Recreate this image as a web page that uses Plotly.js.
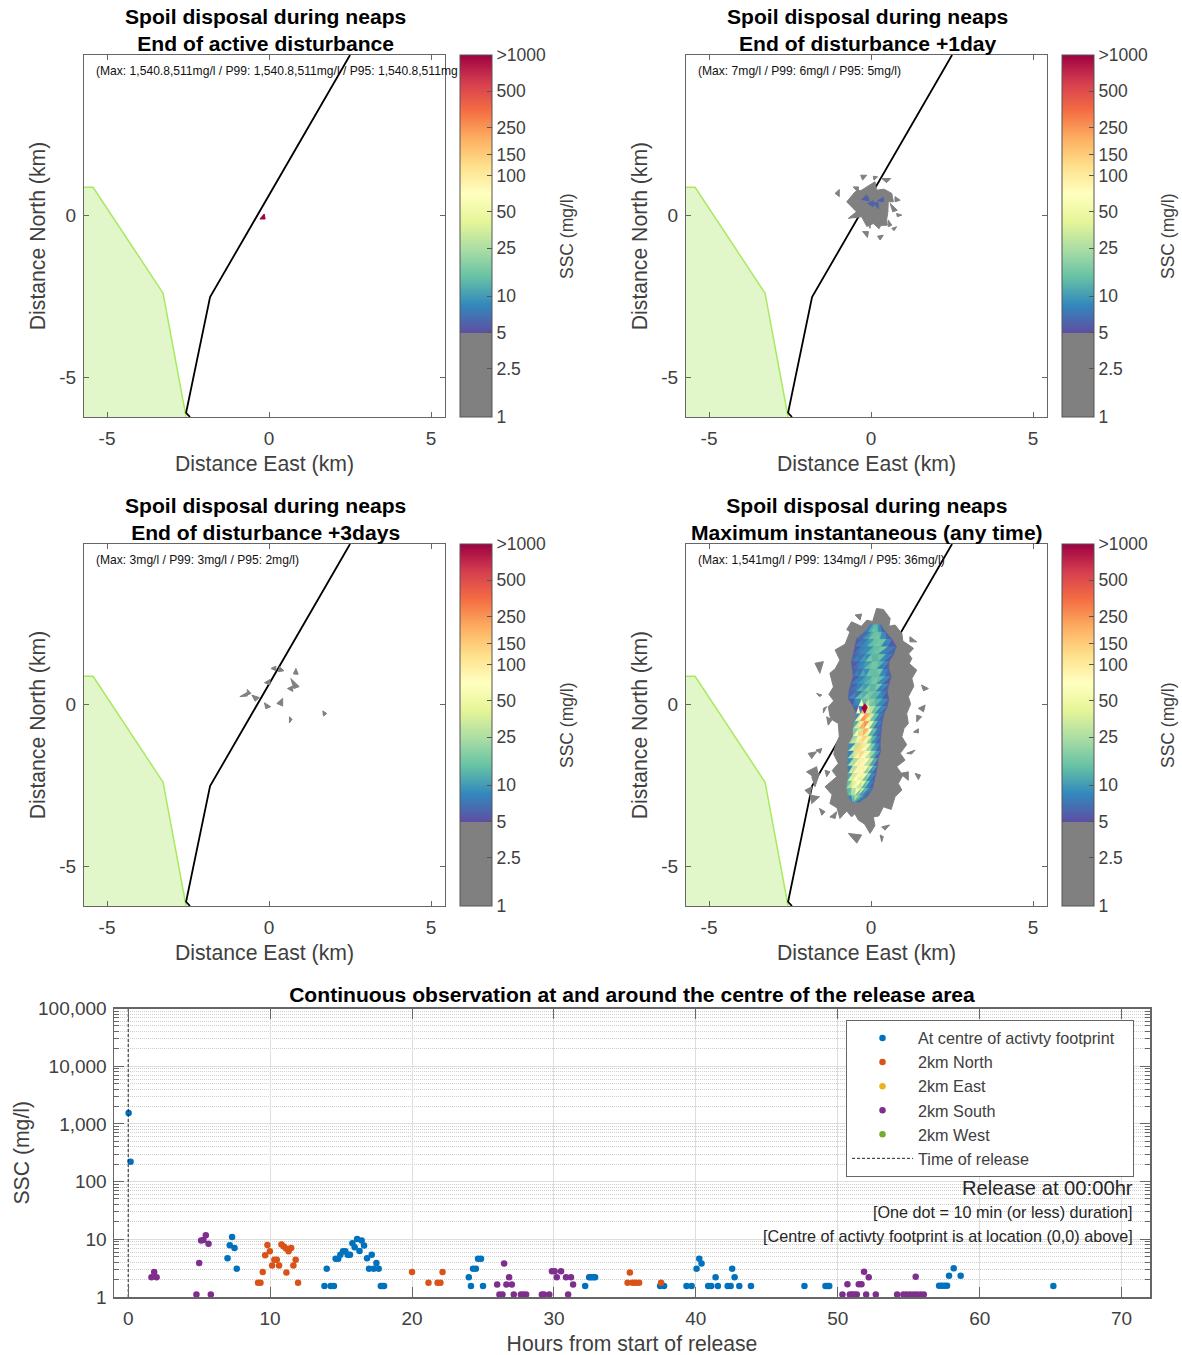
<!DOCTYPE html>
<html><head><meta charset="utf-8">
<script src="https://cdn.plot.ly/plotly-3.0.1.min.js"></script>
<style>html,body{margin:0;padding:0;background:#fff}</style></head>
<body><div id="chart" style="width:1182px;height:1355px"></div>
<script>
// ---- Map data (km) ----
const coastX=[-5.71,-5.43,-3.27,-2.56,-5.71,-5.71];
const coastY=[0.86,0.86,-2.41,-6.23,-6.23,0.86];
const coastEdgeX=[-5.71,-5.43,-3.27,-2.56];
const coastEdgeY=[0.86,0.86,-2.41,-6.23];
const channelX=[2.5,-1.82,-2.56,-2.44];
const channelY=[4.94,-2.53,-6.1,-6.23];
const panelTitles=["Spoil disposal during neaps<br>End of active disturbance","Spoil disposal during neaps<br>End of disturbance +1day","Spoil disposal during neaps<br>End of disturbance +3days","Spoil disposal during neaps<br>Maximum instantaneous (any time)"];
const panelStats=["(Max: 1,540.8,511mg/l / P99: 1,540.8,511mg/l / P95: 1,540.8,511mg","(Max: 7mg/l / P99: 6mg/l / P95: 5mg/l)","(Max: 3mg/l / P99: 3mg/l / P95: 2mg/l)","(Max: 1,541mg/l / P99: 134mg/l / P95: 36mg/l)"];
// ---- Colour bar ----
const cbarValues=[1,2.5,5,10,25,50,100,150,250,500,1000];
const cbarLabels=["1","2.5","5","10","25","50","100","150","250","500",">1000"];
const spectral=["#5e4fa2","#3288bd","#66c2a5","#abdda4","#e6f598","#ffffbf","#fee08b","#fdae61","#f46d43","#d53e4f","#9e0142"];
const greyColor="#808080";
// ---- Panel 1 footprint ----
const p1Crimson=[[-0.28,-0.12],[-0.15,0.03],[-0.12,-0.12]];
// ---- Panel 2 footprint ----
const p2Blob=[[-0.29,0.77],[-0.1,0.88],[0.12,1.03],[0.17,0.77],[0.4,0.8],[0.64,0.67],[0.69,0.41],[0.53,0.41],[0.52,0.1],[0.48,-0.15],[0.5,-0.31],[0.3,-0.32],[0.25,-0.42],[0.07,-0.26],[-0.13,-0.35],[-0.29,-0.05],[-0.7,-0.1],[-0.45,0.1],[-0.75,0.41],[-0.49,0.72]];
const p2Grey=[
[[-1.11,0.67],[-0.98,0.79],[-0.98,0.57]],[[-0.32,1.23],[-0.13,1.23],[-0.26,1.08]],[[0.07,1.2],[0.2,1.18],[0.09,1.08]],[[0.33,1.13],[0.61,1.13],[0.48,1.0]],
[[-0.55,0.87],[-0.39,0.87],[-0.39,0.69]],[[0.74,0.57],[0.9,0.46],[0.74,0.41]],[[0.59,0.36],[0.81,0.15],[0.67,0.1]],[[0.79,0.05],[0.95,0],[0.81,-0.05]],
[[0.53,-0.15],[0.64,-0.31],[0.53,-0.36]],[[0.64,-0.41],[0.79,-0.36],[0.71,-0.48]],[[-0.26,-0.51],[-0.08,-0.51],[-0.11,-0.69]],[[0.2,-0.65],[0.38,-0.62],[0.28,-0.77]],
[[-0.13,-0.15],[-0.01,-0.15],[-0.03,-0.41]]];
const p2Blue=[[[-0.29,0.48],[-0.13,0.62],[-0.05,0.44]],[[-0.1,0.36],[0.07,0.44],[0.07,0.26]],[[0.2,0.44],[0.38,0.55],[0.38,0.41]],[[0.07,0.38],[0.22,0.38],[0.22,0.2]]];
// ---- Panel 3 footprint ----
const p3Grey=[
[[0.06,1.1],[0.21,1.17],[0.21,1.03]],[[0.32,1.15],[0.46,1.03],[0.29,1.0]],[[0.83,1.1],[0.9,0.92],[0.75,0.93]],[[-0.14,0.66],[0.03,0.76],[0.03,0.59]],
[[0.67,0.79],[0.93,0.54],[0.77,0.48]],[[0.57,0.48],[0.73,0.56],[0.73,0.39]],[[-0.9,0.23],[-0.69,0.35],[-0.67,0.25]],[[-0.67,0.45],[-0.56,0.33],[-0.67,0.28]],
[[-0.53,0.28],[-0.3,0.2],[-0.43,0.09]],[[-0.14,0.04],[0.05,-0.08],[-0.1,-0.14]],[[0.24,0.02],[0.42,0.18],[0.42,-0.06]],[[0.63,-0.39],[0.71,-0.47],[0.63,-0.58]],[[1.66,-0.21],[1.78,-0.29],[1.68,-0.37]]];
// ---- Panel 4 footprint ----
const p4Blob=[[0.17,2.95],[0.38,2.92],[0.59,2.64],[0.55,2.4],[0.74,2.44],[0.95,2.18],[0.98,1.95],[1.31,1.72],[1.16,1.55],[1.26,1.41],[1.18,1.25],[1.41,1.05],[1.26,0.79],[1.32,0.55],[1.15,0.23],[1.22,0.0],[1.1,-0.29],[1.15,-0.6],[1.02,-0.75],[0.95,-1.01],[1.1,-1.25],[0.9,-1.52],[1.05,-1.73],[0.79,-1.93],[0.98,-2.2],[0.84,-2.45],[0.95,-2.65],[0.74,-2.86],[0.62,-3.25],[0.38,-3.17],[0.24,-3.45],[0.07,-3.48],[0.12,-3.75],[-0.03,-3.99],[-0.2,-3.7],[-0.39,-3.58],[-0.5,-3.38],[-0.6,-3.48],[-0.75,-3.3],[-0.96,-3.53],[-1.05,-3.2],[-1.27,-3.07],[-1.2,-2.8],[-1.42,-2.55],[-1.06,-2.24],[-1.2,-2.05],[-1.01,-1.83],[-1.15,-1.55],[-1.11,-1.32],[-0.98,-1.0],[-1.01,-0.6],[-1.25,-0.45],[-1.32,-0.08],[-1.15,0.1],[-1.3,0.3],[-1.16,0.53],[-1.27,0.95],[-1.1,1.1],[-0.96,1.36],[-1.11,1.67],[-0.8,1.85],[-0.65,2.23],[-0.75,2.3],[-0.6,2.54],[-0.3,2.4],[-0.13,2.59],[0.05,2.55]];
const p4Grey=[
[[-1.73,1.26],[-1.47,1.31],[-1.58,0.95]],[[-0.49,2.75],[-0.29,2.78],[-0.34,2.59]],[[1.2,2.08],[1.41,1.92],[1.2,1.92]],[[1.56,0.59],[1.77,0.48],[1.62,0.41]],
[[1.46,-0.13],[1.67,-0.03],[1.62,-0.24]],[[1.41,-0.34],[1.56,-0.39],[1.41,-0.55]],[[1.31,-0.86],[1.46,-0.76],[1.46,-0.89]],[[-1.68,0.33],[-1.52,0.28],[-1.59,0.23]],
[[-1.47,-0.13],[-1.37,-0.08],[-1.47,-0.27]],[[-1.37,-0.39],[-1.21,-0.49],[-1.32,-0.65]],[[-1.94,-1.52],[-1.68,-1.47],[-1.83,-1.68]],[[-1.7,-1.42],[-1.52,-1.37],[-1.57,-1.52]],
[[-1.99,-2.09],[-1.68,-1.93],[-1.63,-2.19],[-1.78,-2.24]],[[-1.83,-2.24],[-1.59,-2.14],[-1.73,-2.55]],[[-2.04,-2.66],[-1.83,-2.55],[-1.88,-2.81]],[[-1.88,-2.81],[-1.59,-2.86],[-1.83,-3.07]],
[[-1.59,-3.22],[-1.42,-3.32],[-1.52,-3.43]],[[-1.27,-3.48],[-1.06,-3.32],[-1.11,-3.53]],[[-1.42,-2.04],[-1.27,-2.09],[-1.37,-2.24]],[[0.9,-2.14],[1.15,-2.09],[1.15,-2.35]],
[[1.36,-2.14],[1.53,-2.19],[1.46,-2.33]],[[1.1,-1.52],[1.36,-1.42],[1.25,-1.54]],[[0.28,-4.04],[0.38,-4.09],[0.33,-4.25]],[[0.33,-3.79],[0.57,-3.73],[0.43,-3.89]],[[-0.7,-3.99],[-0.29,-4.04],[-0.44,-4.29]]];
const plumeRowY=[2.45,2.22,2.00,1.77,1.54,1.31,1.08,0.85,0.62,0.39,0.16,-0.07,-0.30,-0.53,-0.76,-0.99,-1.22,-1.45,-1.68,-1.91,-2.14,-2.37,-2.60,-2.83,-3.02];
const plumeRowX=[
[-0.02,0.03,0.08,0.13,0.18,0.24,0.30],[-0.20,-0.08,0.02,0.12,0.22,0.34,0.45],[-0.45,-0.25,-0.08,0.10,0.28,0.48,0.65],[-0.50,-0.32,-0.12,0.08,0.30,0.52,0.78],
[-0.55,-0.38,-0.16,0.02,0.22,0.46,0.70],[-0.60,-0.36,-0.18,0.04,0.24,0.42,0.55],[-0.58,-0.40,-0.22,-0.02,0.18,0.38,0.55],[-0.55,-0.36,-0.16,0.04,0.24,0.44,0.62],
[-0.62,-0.42,-0.22,-0.02,0.16,0.36,0.55],[-0.68,-0.46,-0.24,-0.04,0.14,0.32,0.50],[-0.70,-0.50,-0.28,-0.06,0.14,0.36,0.55],[-0.55,-0.38,-0.22,-0.04,0.14,0.32,0.50],
[-0.45,-0.32,-0.16,0.00,0.12,0.26,0.40],[-0.50,-0.36,-0.20,-0.04,0.10,0.22,0.35],[-0.55,-0.38,-0.22,-0.06,0.06,0.20,0.32],[-0.55,-0.40,-0.24,-0.10,0.04,0.18,0.30],
[-0.68,-0.48,-0.30,-0.14,0.00,0.14,0.28],[-0.70,-0.52,-0.34,-0.16,0.00,0.16,0.30],[-0.72,-0.54,-0.36,-0.18,-0.04,0.10,0.22],[-0.72,-0.56,-0.40,-0.22,-0.06,0.08,0.20],
[-0.70,-0.56,-0.40,-0.24,-0.10,0.02,0.15],[-0.72,-0.58,-0.44,-0.28,-0.14,-0.02,0.10],[-0.75,-0.60,-0.46,-0.30,-0.18,-0.06,0.05],[-0.70,-0.60,-0.50,-0.38,-0.28,-0.18,-0.10],
[-0.60,-0.56,-0.52,-0.48,-0.44,-0.40,-0.35]];
const plumeRowV=[
[8,10,12,13,12,9,7],[6,8,12,15,14,9,6],[6,7,10,15,16,9,6],[5.5,8,9,14,16,8,5.5],
[6,7,9,13,15,8,6],[5.5,8,10,16,13,9,5.5],[6,7,9,14,16,8,6],[5.5,8,11,15,14,9,6],
[6,8,10,13,17,9,5.5],[6,7,12,16,13,8,6],[5.5,9,14,18,13,9,5.5],[6,8,60,28,15,9,6],
[9,70,200,35,14,8,6],[12,45,250,50,15,8,6],[18,35,200,65,14,7,6],[22,60,140,45,13,8,6],
[9,30,110,55,18,9,6],[8,35,130,60,22,10,6],[9,25,90,70,30,12,6],[8,28,85,80,28,11,6],
[11,35,80,60,20,9,6],[14,40,70,45,16,8,6],[13,28,55,30,13,8,6],[8,16,26,16,10,7,6],[7,9,10,10,8,7,7]];
const plumePeak=[[-0.19,0.02],[-0.11,-0.10],[-0.19,-0.29],[-0.29,-0.13]];
// ---- Time series ----
const hoursCentre=[0.03,0.17,7.0,7.16,7.32,7.49,7.65,13.83,13.99,14.27,14.5,14.62,14.8,14.95,15.14,15.3,15.47,15.63,15.8,15.96,16.13,16.3,16.45,16.62,16.83,16.97,17.16,17.3,17.49,17.65,17.8,17.9,18.03,24.0,24.15,24.3,24.5,24.65,24.86,25.0,32.2,32.48,32.6,32.76,32.9,37.48,37.76,39.34,39.7,40.05,40.24,40.4,40.87,41.08,41.39,41.55,42.24,42.45,42.56,42.73,43.06,43.88,47.65,49.13,49.3,49.4,57.14,57.32,57.51,57.7,57.84,58.17,58.66,65.19];
const ssCentre=[1541,220,4.7,7.9,11,7.1,3.1,1.55,3.1,1.55,1.55,4.6,4.6,5.4,6.2,6.2,5.4,5.4,8.5,7.3,10.1,6.3,9.5,7.8,4.7,3.1,5.4,3.1,3.9,3.1,1.55,1.55,1.55,2.2,1.55,3.1,3.1,4.6,4.6,1.55,1.55,2.2,2.2,2.2,2.2,1.55,1.55,1.55,1.55,3.1,4.6,3.8,1.55,1.55,2.2,1.55,1.55,1.55,3.1,2.2,1.55,1.55,1.55,1.55,1.55,1.55,1.57,1.57,1.57,1.57,2.34,3.14,2.34,1.55];
const hoursNorth=[9.15,9.32,9.48,9.65,9.81,9.98,10.14,10.3,10.47,10.63,10.8,10.96,11.13,11.15,11.3,11.48,11.64,11.8,11.97,20.0,21.16,21.8,22.0,22.15,35.19,35.35,35.54,35.75,36.0,37.55];
const ssNorth=[1.77,1.77,2.7,5.3,8,6.2,3.5,4.4,4.4,3.5,8.1,7.5,6.9,2.65,6.2,7.1,3.5,4.4,1.77,2.7,1.77,1.77,1.77,2.7,1.77,2.65,1.77,1.77,1.77,1.77];
const hoursEast=[],ssEast=[];
const hoursSouth=[1.64,1.83,2.0,4.81,5.0,5.14,5.3,5.47,5.66,5.82,26.0,26.16,26.37,26.49,26.65,26.84,27.03,27.17,27.67,27.85,28.04,29.15,29.3,29.67,29.86,30.05,30.2,30.5,30.85,31.0,31.2,31.35,50.33,50.68,50.85,51.0,51.17,51.34,51.48,51.67,51.85,52.0,52.18,52.68,54.18,54.62,54.84,55.09,55.33,55.49,55.56,55.82,56.06];
const ssSouth=[2.2,2.7,2.2,1.1,3.9,9.5,9.7,11.7,8.4,1.1,1.64,1.1,1.1,3.8,1.64,2.2,1.64,1.1,1.1,1.1,1.1,1.1,1.1,1.1,2.8,2.8,2.2,2.8,2.2,1.1,2.2,1.65,1.1,1.66,1.1,1.1,1.1,1.1,1.66,1.66,2.75,1.1,2.2,1.1,1.1,1.1,1.1,1.1,1.1,2.25,1.1,1.1,1.1];
const hoursWest=[],ssWest=[];
const seriesNames=["At centre of activty footprint\u00a0\u00a0\u00a0","2km North","2km East","2km South","2km West"];
const seriesColors=["#0072BD","#D95319","#EDB120","#7E2F8E","#77AC30"];
const releaseHour=[0,0];
const releaseSSC=[1,100000];

// ---- Build ----
const W=1182,H=1355,textCol="#404040",axCol="#666666",FONT="Liberation Sans, Arial, sans-serif";
const fx=p=>p/W, fy=p=>1-p/H;
const log=v=>Math.log10(v);
const gf=log(5)/3;
const colorscale=[[0,greyColor],[gf,greyColor]];
spectral.forEach((c,i)=>colorscale.push([gf+(1-gf)*i/10,c]));
function hex(c){return [1,3,5].map(i=>parseInt(c.substr(i,2),16));}
function colorFor(v){
  const t=log(v)/3; if(t<=gf) return greyColor;
  const s=Math.min(0.9999,(t-gf)/(1-gf))*10, i=Math.floor(s), f=s-i;
  const a=hex(spectral[i]),b=hex(spectral[i+1]);
  return "rgb("+a.map((x,k)=>Math.round(x+(b[k]-x)*f)).join(",")+")";
}
function polys(list,color,xa,ya,lw){
  const x=[],y=[];
  list.forEach(p=>{p.forEach(q=>{x.push(q[0]);y.push(q[1]);});x.push(p[0][0],null);y.push(p[0][1],null);});
  return {type:"scatter",mode:"lines",x,y,xaxis:xa,yaxis:ya,fill:"toself",fillcolor:color,line:{color,width:lw===undefined?1:lw},hoverinfo:"skip",showlegend:false};
}
const panels=[
 {l:84,t:55,cb:460,sx:567,xa:"x",ya:"y"},
 {l:686,t:55,cb:1062,sx:1168,xa:"x2",ya:"y2"},
 {l:84,t:544,cb:460,sx:567,xa:"x3",ya:"y3"},
 {l:686,t:544,cb:1062,sx:1168,xa:"x4",ya:"y4"}];
const traces=[],annotations=[];
const layout={width:W,height:H,margin:{l:0,r:0,t:0,b:0},paper_bgcolor:"#fff",plot_bgcolor:"#fff",font:{family:FONT,color:textCol,size:17},annotations,
 legend:{x:fx(846),y:fy(1020),xanchor:"left",yanchor:"top",bgcolor:"#fff",bordercolor:axCol,borderwidth:1,font:{size:16.2,color:textCol},itemwidth:61,traceorder:"normal",tracegroupgap:0},
 title:{text:"Continuous observation at and around the centre of the release area",font:{size:21.1,family:FONT,color:"#000",weight:"bold"},xref:"paper",x:632/W,xanchor:"center",yref:"container",y:fy(995),yanchor:"middle"}};
panels.forEach((p,i)=>{
  const n=i?String(i+1):"";
  layout["xaxis"+n]={domain:[fx(p.l),fx(p.l+361)],range:[-5.71,5.43],anchor:"y"+n,tickvals:[-5,0,5],ticktext:["-5","0","5"],ticks:"inside",ticklen:5,tickcolor:axCol,showline:true,linecolor:axCol,mirror:"ticks",showgrid:false,zeroline:false,ticklabelstandoff:4,tickfont:{size:19,color:textCol},title:{text:"Distance East (km)",font:{size:21.2,color:textCol},standoff:8}};
  layout["yaxis"+n]={domain:[fy(p.t+362),fy(p.t)],range:[-6.23,4.94],anchor:"x"+n,tickvals:[-5,0],ticktext:["-5","0"],ticks:"inside",ticklen:5,tickcolor:axCol,showline:true,linecolor:axCol,mirror:"ticks",showgrid:false,zeroline:false,ticklabelstandoff:3,tickfont:{size:19,color:textCol},title:{text:"Distance North (km)",font:{size:21.2,color:textCol},standoff:7}};
  traces.push({type:"scatter",mode:"lines",x:coastX,y:coastY,xaxis:p.xa,yaxis:p.ya,fill:"toself",fillcolor:"#e1f7ca",line:{width:0},hoverinfo:"skip",showlegend:false});
  traces.push({type:"scatter",mode:"lines",x:coastEdgeX,y:coastEdgeY,xaxis:p.xa,yaxis:p.ya,line:{color:"#a9e85f",width:1.5},hoverinfo:"skip",showlegend:false});
  traces.push({type:"scatter",mode:"lines",x:channelX,y:channelY,xaxis:p.xa,yaxis:p.ya,line:{color:"#000",width:1.8},hoverinfo:"skip",showlegend:false});
  traces.push({type:"scatter",mode:"markers",x:[null],y:[null],xaxis:p.xa,yaxis:p.ya,hoverinfo:"skip",showlegend:false,marker:{color:[0],cmin:0,cmax:3,colorscale,showscale:true,
    colorbar:{xref:"paper",yref:"paper",x:fx(p.cb),xanchor:"left",y:fy(p.t+362),yanchor:"bottom",len:362,lenmode:"pixels",thickness:32,thicknessmode:"pixels",xpad:0,ypad:0,outlinecolor:"#555",outlinewidth:1,ticks:"inside",ticklen:5,tickcolor:"#555",tickmode:"array",tickvals:cbarValues.map(log),ticktext:cbarLabels,tickfont:{size:17.5,color:textCol}}}});
  annotations.push({xref:"paper",yref:"paper",x:fx(p.l+181),y:fy(p.t-25),xanchor:"center",yanchor:"middle",text:panelTitles[i],showarrow:false,align:"center",font:{size:21.1,weight:"bold",color:"#000"}});
  annotations.push({xref:"paper",yref:"paper",x:fx(p.l+10),y:fy(p.t+16),xanchor:"left",yanchor:"middle",text:panelStats[i],showarrow:false,font:{size:12.1,color:"#111"}});
  annotations.push({xref:"paper",yref:"paper",x:fx(p.sx),y:fy(p.t+181),xanchor:"center",yanchor:"middle",text:"SSC (mg/l)",textangle:-90,showarrow:false,font:{size:17.5,color:textCol}});
});
// panel footprints
traces.push(polys([p1Crimson],colorFor(1200),"x","y"));
traces.push(polys([p2Blob].concat(p2Grey),greyColor,"x2","y2"));
traces.push(polys(p2Blue,colorFor(6),"x2","y2"));
traces.push(polys(p3Grey,greyColor,"x3","y3"));
traces.push(polys([p4Blob].concat(p4Grey),greyColor,"x4","y4"));
for(let r=0;r<plumeRowY.length-1;r++){
  for(let c=0;c<6;c++){
    const A=[plumeRowX[r][c],plumeRowY[r]],B=[plumeRowX[r][c+1],plumeRowY[r]],C=[plumeRowX[r+1][c],plumeRowY[r+1]],D=[plumeRowX[r+1][c+1],plumeRowY[r+1]];
    traces.push(polys([[A,B,C]],colorFor(plumeRowV[r][c]),"x4","y4",0.5));
    traces.push(polys([[B,C,D]],colorFor(plumeRowV[r+1][c+1]),"x4","y4",0.5));
  }
}
traces.push(polys([plumePeak],colorFor(1200),"x4","y4",0.5));
// time series
layout.xaxis5={domain:[fx(114),fx(1150)],range:[-1,72],anchor:"y5",tickvals:[0,10,20,30,40,50,60,70],ticks:"inside",ticklen:10,tickcolor:axCol,showline:true,linecolor:axCol,linewidth:1.5,mirror:"ticks",showgrid:true,gridcolor:"#dedede",zeroline:false,ticklabelstandoff:4,tickfont:{size:19,color:textCol},title:{text:"Hours from start of release",font:{size:21.2,color:textCol},standoff:10}};
layout.yaxis5={domain:[fy(1297),fy(1008.5)],type:"log",range:[0,5],anchor:"x5",tickvals:[1,10,100,1000,10000,100000],ticktext:["1","10","100","1,000","10,000","100,000"],ticks:"inside",ticklen:10,tickcolor:axCol,showline:true,linecolor:axCol,linewidth:1.5,mirror:"ticks",showgrid:true,gridcolor:"#dedede",zeroline:false,ticklabelstandoff:2,tickfont:{size:19,color:textCol},
  minor:{dtick:"D1",ticks:"inside",ticklen:5,tickcolor:axCol,showgrid:true,gridcolor:"#cfcfcf",griddash:"1px,1px",gridwidth:1},title:{text:"SSC (mg/l)",font:{size:21.2,color:textCol},standoff:2}};
const sx=[hoursCentre,hoursNorth,hoursEast,hoursSouth,hoursWest],sy=[ssCentre,ssNorth,ssEast,ssSouth,ssWest];
seriesNames.forEach((name,i)=>traces.push({type:"scatter",mode:"markers",name,x:sx[i].length?sx[i]:[null],y:sy[i].length?sy[i]:[null],xaxis:"x5",yaxis:"y5",cliponaxis:false,marker:{color:seriesColors[i],size:6.5},showlegend:true}));
traces.push({type:"scatter",mode:"lines",name:"Time of release",x:releaseHour,y:releaseSSC,xaxis:"x5",yaxis:"y5",line:{color:"#222",width:1,dash:"3px,2px"},showlegend:true});
[["Release at 00:00hr",1188,20.2],["[One dot = 10 min (or less) duration]",1212,16.2],["[Centre of activty footprint is at location (0,0) above]",1236,16.2]].forEach(a=>
 annotations.push({xref:"paper",yref:"paper",x:fx(1135),y:fy(a[1]),xanchor:"right",yanchor:"middle",text:a[0],showarrow:false,font:{size:a[2],color:"#262626"}}));
Plotly.newPlot("chart",traces,layout,{displayModeBar:false,staticPlot:true});
</script></body></html>
